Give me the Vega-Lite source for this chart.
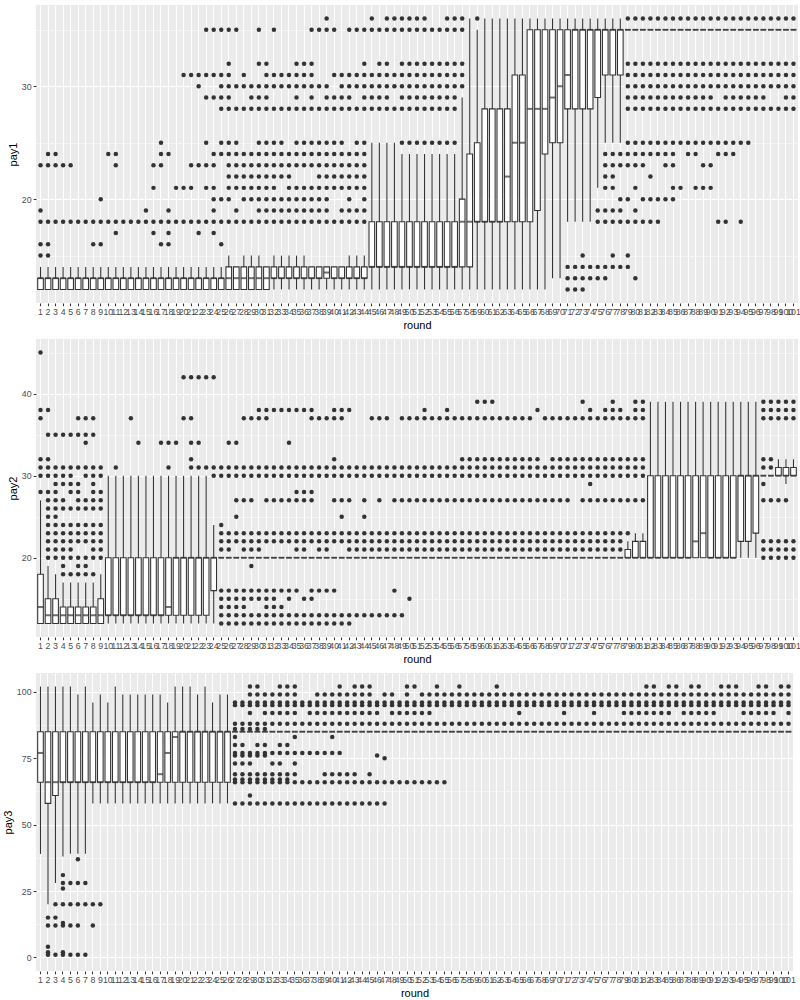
{
"$schema": "https://vega.github.io/schema/vega-lite/v6.json",
"background": "#FFFFFF",
"padding": {"left": 2, "top": 5, "right": 2, "bottom": 2},
"spacing": 8,
"columns": 1,
"align": "none",
"config": {
  "font": "Liberation Sans",
  "view": {"fill": "#EBEBEB", "stroke": null},
  "axis": {"domain": false, "tickColor": "#333333", "tickSize": 2.75, "tickWidth": 1.07, "labelColor": "#4D4D4D", "labelFontSize": 8.8, "labelPadding": 2.2, "titleColor": "#000000", "titleFontSize": 11, "titleFontWeight": "normal", "titlePadding": 2.75, "gridColor": "#FFFFFF", "gridWidth": 1.07}
},
"datasets": {
"b1": [
{"r":1,"lo":12,"q1":12,"md":13,"q3":13,"hi":14},{"r":2,"lo":12,"q1":12,"md":13,"q3":13,"hi":14},{"r":3,"lo":12,"q1":12,"md":13,"q3":13,"hi":14},{"r":4,"lo":12,"q1":12,"md":13,"q3":13,"hi":14},{"r":5,"lo":12,"q1":12,"md":13,"q3":13,"hi":14},
{"r":6,"lo":12,"q1":12,"md":13,"q3":13,"hi":14},{"r":7,"lo":12,"q1":12,"md":13,"q3":13,"hi":14},{"r":8,"lo":12,"q1":12,"md":13,"q3":13,"hi":14},{"r":9,"lo":12,"q1":12,"md":13,"q3":13,"hi":14},{"r":10,"lo":12,"q1":12,"md":13,"q3":13,"hi":14},
{"r":11,"lo":12,"q1":12,"md":13,"q3":13,"hi":14},{"r":12,"lo":12,"q1":12,"md":13,"q3":13,"hi":14},{"r":13,"lo":12,"q1":12,"md":13,"q3":13,"hi":14},{"r":14,"lo":12,"q1":12,"md":13,"q3":13,"hi":14},{"r":15,"lo":12,"q1":12,"md":13,"q3":13,"hi":14},
{"r":16,"lo":12,"q1":12,"md":13,"q3":13,"hi":14},{"r":17,"lo":12,"q1":12,"md":13,"q3":13,"hi":14},{"r":18,"lo":12,"q1":12,"md":13,"q3":13,"hi":14},{"r":19,"lo":12,"q1":12,"md":13,"q3":13,"hi":14},{"r":20,"lo":12,"q1":12,"md":13,"q3":13,"hi":14},
{"r":21,"lo":12,"q1":12,"md":13,"q3":13,"hi":14},{"r":22,"lo":12,"q1":12,"md":13,"q3":13,"hi":14},{"r":23,"lo":12,"q1":12,"md":13,"q3":13,"hi":14},{"r":24,"lo":12,"q1":12,"md":13,"q3":13,"hi":14},{"r":25,"lo":12,"q1":12,"md":13,"q3":13,"hi":14},
{"r":26,"lo":12,"q1":12,"md":13,"q3":14,"hi":15},{"r":27,"lo":12,"q1":12,"md":13,"q3":14,"hi":14},{"r":28,"lo":12,"q1":12,"md":13,"q3":14,"hi":15},{"r":29,"lo":12,"q1":12,"md":13,"q3":14,"hi":15},{"r":30,"lo":12,"q1":12,"md":13,"q3":14,"hi":15},
{"r":31,"lo":12,"q1":12,"md":13,"q3":14,"hi":14},{"r":32,"lo":12,"q1":13,"md":13,"q3":14,"hi":15},{"r":33,"lo":12,"q1":13,"md":13,"q3":14,"hi":15},{"r":34,"lo":12,"q1":13,"md":13,"q3":14,"hi":15},{"r":35,"lo":12,"q1":13,"md":13,"q3":14,"hi":15},
{"r":36,"lo":12,"q1":13,"md":13,"q3":14,"hi":15},{"r":37,"lo":12,"q1":13,"md":13,"q3":14,"hi":14},{"r":38,"lo":12,"q1":13,"md":13,"q3":14,"hi":14},{"r":39,"lo":12,"q1":13,"md":13.5,"q3":14,"hi":14},{"r":40,"lo":12,"q1":13,"md":13,"q3":14,"hi":14},
{"r":41,"lo":12,"q1":13,"md":13,"q3":14,"hi":14},{"r":42,"lo":12,"q1":13,"md":13,"q3":14,"hi":15},{"r":43,"lo":12,"q1":13,"md":13,"q3":14,"hi":15},{"r":44,"lo":12,"q1":13,"md":13,"q3":14,"hi":15},{"r":45,"lo":12,"q1":14,"md":14,"q3":18,"hi":25},
{"r":46,"lo":12,"q1":14,"md":14,"q3":18,"hi":25},{"r":47,"lo":12,"q1":14,"md":14,"q3":18,"hi":25},{"r":48,"lo":12,"q1":14,"md":14,"q3":18,"hi":25},{"r":49,"lo":12,"q1":14,"md":14,"q3":18,"hi":24},{"r":50,"lo":12,"q1":14,"md":14,"q3":18,"hi":24},
{"r":51,"lo":12,"q1":14,"md":14,"q3":18,"hi":24},{"r":52,"lo":12,"q1":14,"md":14,"q3":18,"hi":24},{"r":53,"lo":12,"q1":14,"md":14,"q3":18,"hi":24},{"r":54,"lo":12,"q1":14,"md":14,"q3":18,"hi":24},{"r":55,"lo":12,"q1":14,"md":14,"q3":18,"hi":24},
{"r":56,"lo":12,"q1":14,"md":14,"q3":18,"hi":24},{"r":57,"lo":12,"q1":14,"md":18,"q3":20,"hi":29},{"r":58,"lo":12,"q1":14,"md":18,"q3":24,"hi":36},{"r":59,"lo":12,"q1":18,"md":18,"q3":25,"hi":35},{"r":60,"lo":12,"q1":18,"md":18,"q3":28,"hi":36},
{"r":61,"lo":12,"q1":18,"md":18,"q3":28,"hi":36},{"r":62,"lo":12,"q1":18,"md":18,"q3":28,"hi":36},{"r":63,"lo":12,"q1":18,"md":22,"q3":28,"hi":36},{"r":64,"lo":12,"q1":18,"md":25,"q3":31,"hi":36},{"r":65,"lo":12,"q1":18,"md":25,"q3":31,"hi":36},
{"r":66,"lo":12,"q1":18,"md":28,"q3":35,"hi":36},{"r":67,"lo":12,"q1":19,"md":28,"q3":35,"hi":36},{"r":68,"lo":12,"q1":24,"md":28,"q3":35,"hi":36},{"r":69,"lo":13,"q1":25,"md":29,"q3":35,"hi":36},{"r":70,"lo":13,"q1":25,"md":30,"q3":35,"hi":36},
{"r":71,"lo":18,"q1":28,"md":31,"q3":35,"hi":36},{"r":72,"lo":18,"q1":28,"md":35,"q3":35,"hi":36},{"r":73,"lo":18,"q1":28,"md":35,"q3":35,"hi":36},{"r":74,"lo":18,"q1":28,"md":35,"q3":35,"hi":36},{"r":75,"lo":21,"q1":29,"md":35,"q3":35,"hi":36},
{"r":76,"lo":25,"q1":31,"md":35,"q3":35,"hi":36},{"r":77,"lo":25,"q1":31,"md":35,"q3":35,"hi":36},{"r":78,"lo":25,"q1":31,"md":35,"q3":35,"hi":36},{"r":79,"lo":35,"q1":35,"md":35,"q3":35,"hi":35},{"r":80,"lo":35,"q1":35,"md":35,"q3":35,"hi":35},
{"r":81,"lo":35,"q1":35,"md":35,"q3":35,"hi":35},{"r":82,"lo":35,"q1":35,"md":35,"q3":35,"hi":35},{"r":83,"lo":35,"q1":35,"md":35,"q3":35,"hi":35},{"r":84,"lo":35,"q1":35,"md":35,"q3":35,"hi":35},{"r":85,"lo":35,"q1":35,"md":35,"q3":35,"hi":35},
{"r":86,"lo":35,"q1":35,"md":35,"q3":35,"hi":35},{"r":87,"lo":35,"q1":35,"md":35,"q3":35,"hi":35},{"r":88,"lo":35,"q1":35,"md":35,"q3":35,"hi":35},{"r":89,"lo":35,"q1":35,"md":35,"q3":35,"hi":35},{"r":90,"lo":35,"q1":35,"md":35,"q3":35,"hi":35},
{"r":91,"lo":35,"q1":35,"md":35,"q3":35,"hi":35},{"r":92,"lo":35,"q1":35,"md":35,"q3":35,"hi":35},{"r":93,"lo":35,"q1":35,"md":35,"q3":35,"hi":35},{"r":94,"lo":35,"q1":35,"md":35,"q3":35,"hi":35},{"r":95,"lo":35,"q1":35,"md":35,"q3":35,"hi":35},
{"r":96,"lo":35,"q1":35,"md":35,"q3":35,"hi":35},{"r":97,"lo":35,"q1":35,"md":35,"q3":35,"hi":35},{"r":98,"lo":35,"q1":35,"md":35,"q3":35,"hi":35},{"r":99,"lo":35,"q1":35,"md":35,"q3":35,"hi":35},{"r":100,"lo":35,"q1":35,"md":35,"q3":35,"hi":35},
{"r":101,"lo":35,"q1":35,"md":35,"q3":35,"hi":35}
],
"o1": [
{"v":36,"r":[39,45,47,48,49,50,51,52,55,56,57,59,79,80,81,82,83,84,85,86,87,88,89,90,91,92,93,94,95,96,97,98,99,100,101]},
{"v":35,"r":[23,24,25,26,27,30,32,37,38,39,40,42,43,44,45,46,47,48,49,50,51,52,53,54,55,56,57]},
{"v":32,"r":[26,30,31,35,36,37,44,46,47,49,50,51,52,53,54,55,56,57,79,80,81,82,83,84,85,86,87,88,89,90,91,92,93,94,95,96,97,98,99,100,101]},
{"v":31,"r":[20,21,22,23,24,25,26,28,31,32,33,34,35,36,37,40,41,42,43,44,45,46,47,48,49,50,51,52,53,54,55,56,57,79,80,81,82,83,84,85,86,87,88,89,90,91,92,93,94,95,96,97,98,99,100,101]},
{"v":30,"r":[22,25,26,27,28,29,30,31,32,33,34,35,36,37,38,39,41,42,43,44,45,46,47,48,49,50,51,52,53,54,55,56,57,79,80,81,82,83,84,85,86,87,88,89,90,91,92,93,94,95,96,97,98,99,100,101]},
{"v":29,"r":[23,24,25,26,29,30,31,35,37,39,40,41,42,44,45,46,47,49,50,51,52,53,54,55,56,79,80,81,82,83,84,85,86,87,88,89,90,92,93,94,95,96,97,100,101]},
{"v":28,"r":[25,26,27,28,29,30,31,32,33,34,35,36,37,38,39,40,41,42,43,44,45,46,47,48,49,50,51,52,53,54,55,56,79,80,81,82,83,84,85,86,87,88,89,90,91,92,93,94,95,96,97,98,99,100,101]},
{"v":25,"r":[17,23,25,26,27,30,31,32,33,35,36,37,38,39,40,41,43,44,49,50,51,52,53,54,55,56,79,80,81,82,83,84,85,86,87,88,89,90,91,92,93,94,95]},
{"v":24,"r":[2,3,10,11,17,18,24,25,26,27,28,29,30,31,32,33,34,35,36,37,38,39,40,41,42,43,44,76,77,78,79,80,81,82,83,84,85,87,88,91,92,93]},
{"v":23,"r":[1,2,3,4,5,11,16,17,21,22,23,24,26,27,28,29,30,31,32,33,34,35,36,37,38,39,40,41,42,43,44,76,77,78,79,80,81,84,85,89,90]},
{"v":22,"r":[26,27,28,29,30,31,32,33,34,38,39,40,41,42,43,44,76,77,82]},
{"v":21,"r":[16,19,20,21,23,24,26,27,28,29,30,31,32,34,35,36,37,38,39,40,41,42,43,44,76,77,80,85,86,88,89,90]},
{"v":20,"r":[9,24,25,26,28,29,30,31,32,33,34,35,36,37,38,39,42,44,78,79,81,82,83,84,85]},
{"v":19,"r":[1,15,18,24,27,30,31,32,33,34,35,36,37,38,39,41,42,43,44,75,76,77,78,80]},
{"v":18,"r":[1,2,3,4,5,6,7,8,9,10,11,12,13,14,15,16,17,18,19,20,21,22,23,24,25,26,27,28,29,30,31,32,33,34,35,36,37,38,39,40,41,42,43,44,75,76,77,78,79,80,81,82,83,91,92,94]},
{"v":17,"r":[11,16,18,22,24]},
{"v":16,"r":[1,2,8,9,17,18,25]},
{"v":15,"r":[1,2,73,77,79]},
{"v":14,"r":[71,72,73,74,75,76,77,78,79]},
{"v":13,"r":[71,72,73,74,75,76,80]},
{"v":12,"r":[71,72,73]}
],
"b2": [
{"r":1,"lo":12,"q1":12,"md":14,"q3":18,"hi":27},{"r":2,"lo":12,"q1":12,"md":13,"q3":15,"hi":19},{"r":3,"lo":12,"q1":12,"md":13,"q3":15,"hi":18},{"r":4,"lo":12,"q1":12,"md":13,"q3":14,"hi":17},{"r":5,"lo":12,"q1":12,"md":13,"q3":14,"hi":17},
{"r":6,"lo":12,"q1":12,"md":13,"q3":14,"hi":17},{"r":7,"lo":12,"q1":12,"md":13,"q3":14,"hi":17},{"r":8,"lo":12,"q1":12,"md":13,"q3":14,"hi":17},{"r":9,"lo":12,"q1":12,"md":13,"q3":15,"hi":18},{"r":10,"lo":12,"q1":13,"md":13,"q3":20,"hi":30},
{"r":11,"lo":12,"q1":13,"md":13,"q3":20,"hi":30},{"r":12,"lo":12,"q1":13,"md":13,"q3":20,"hi":30},{"r":13,"lo":12,"q1":13,"md":13,"q3":20,"hi":30},{"r":14,"lo":12,"q1":13,"md":13,"q3":20,"hi":30},{"r":15,"lo":12,"q1":13,"md":13,"q3":20,"hi":30},
{"r":16,"lo":12,"q1":13,"md":13,"q3":20,"hi":30},{"r":17,"lo":12,"q1":13,"md":13,"q3":20,"hi":30},{"r":18,"lo":12,"q1":13,"md":14,"q3":20,"hi":30},{"r":19,"lo":12,"q1":13,"md":20,"q3":20,"hi":30},{"r":20,"lo":12,"q1":13,"md":20,"q3":20,"hi":30},
{"r":21,"lo":12,"q1":13,"md":20,"q3":20,"hi":30},{"r":22,"lo":12,"q1":13,"md":20,"q3":20,"hi":30},{"r":23,"lo":12,"q1":13,"md":20,"q3":20,"hi":30},{"r":24,"lo":12,"q1":16,"md":20,"q3":20,"hi":24},{"r":25,"lo":20,"q1":20,"md":20,"q3":20,"hi":20},
{"r":26,"lo":20,"q1":20,"md":20,"q3":20,"hi":20},{"r":27,"lo":20,"q1":20,"md":20,"q3":20,"hi":20},{"r":28,"lo":20,"q1":20,"md":20,"q3":20,"hi":20},{"r":29,"lo":20,"q1":20,"md":20,"q3":20,"hi":20},{"r":30,"lo":20,"q1":20,"md":20,"q3":20,"hi":20},
{"r":31,"lo":20,"q1":20,"md":20,"q3":20,"hi":20},{"r":32,"lo":20,"q1":20,"md":20,"q3":20,"hi":20},{"r":33,"lo":20,"q1":20,"md":20,"q3":20,"hi":20},{"r":34,"lo":20,"q1":20,"md":20,"q3":20,"hi":20},{"r":35,"lo":20,"q1":20,"md":20,"q3":20,"hi":20},
{"r":36,"lo":20,"q1":20,"md":20,"q3":20,"hi":20},{"r":37,"lo":20,"q1":20,"md":20,"q3":20,"hi":20},{"r":38,"lo":20,"q1":20,"md":20,"q3":20,"hi":20},{"r":39,"lo":20,"q1":20,"md":20,"q3":20,"hi":20},{"r":40,"lo":20,"q1":20,"md":20,"q3":20,"hi":20},
{"r":41,"lo":20,"q1":20,"md":20,"q3":20,"hi":20},{"r":42,"lo":20,"q1":20,"md":20,"q3":20,"hi":20},{"r":43,"lo":20,"q1":20,"md":20,"q3":20,"hi":20},{"r":44,"lo":20,"q1":20,"md":20,"q3":20,"hi":20},{"r":45,"lo":20,"q1":20,"md":20,"q3":20,"hi":20},
{"r":46,"lo":20,"q1":20,"md":20,"q3":20,"hi":20},{"r":47,"lo":20,"q1":20,"md":20,"q3":20,"hi":20},{"r":48,"lo":20,"q1":20,"md":20,"q3":20,"hi":20},{"r":49,"lo":20,"q1":20,"md":20,"q3":20,"hi":20},{"r":50,"lo":20,"q1":20,"md":20,"q3":20,"hi":20},
{"r":51,"lo":20,"q1":20,"md":20,"q3":20,"hi":20},{"r":52,"lo":20,"q1":20,"md":20,"q3":20,"hi":20},{"r":53,"lo":20,"q1":20,"md":20,"q3":20,"hi":20},{"r":54,"lo":20,"q1":20,"md":20,"q3":20,"hi":20},{"r":55,"lo":20,"q1":20,"md":20,"q3":20,"hi":20},
{"r":56,"lo":20,"q1":20,"md":20,"q3":20,"hi":20},{"r":57,"lo":20,"q1":20,"md":20,"q3":20,"hi":20},{"r":58,"lo":20,"q1":20,"md":20,"q3":20,"hi":20},{"r":59,"lo":20,"q1":20,"md":20,"q3":20,"hi":20},{"r":60,"lo":20,"q1":20,"md":20,"q3":20,"hi":20},
{"r":61,"lo":20,"q1":20,"md":20,"q3":20,"hi":20},{"r":62,"lo":20,"q1":20,"md":20,"q3":20,"hi":20},{"r":63,"lo":20,"q1":20,"md":20,"q3":20,"hi":20},{"r":64,"lo":20,"q1":20,"md":20,"q3":20,"hi":20},{"r":65,"lo":20,"q1":20,"md":20,"q3":20,"hi":20},
{"r":66,"lo":20,"q1":20,"md":20,"q3":20,"hi":20},{"r":67,"lo":20,"q1":20,"md":20,"q3":20,"hi":20},{"r":68,"lo":20,"q1":20,"md":20,"q3":20,"hi":20},{"r":69,"lo":20,"q1":20,"md":20,"q3":20,"hi":20},{"r":70,"lo":20,"q1":20,"md":20,"q3":20,"hi":20},
{"r":71,"lo":20,"q1":20,"md":20,"q3":20,"hi":20},{"r":72,"lo":20,"q1":20,"md":20,"q3":20,"hi":20},{"r":73,"lo":20,"q1":20,"md":20,"q3":20,"hi":20},{"r":74,"lo":20,"q1":20,"md":20,"q3":20,"hi":20},{"r":75,"lo":20,"q1":20,"md":20,"q3":20,"hi":20},
{"r":76,"lo":20,"q1":20,"md":20,"q3":20,"hi":20},{"r":77,"lo":20,"q1":20,"md":20,"q3":20,"hi":20},{"r":78,"lo":20,"q1":20,"md":20,"q3":20,"hi":20},{"r":79,"lo":20,"q1":20,"md":20,"q3":21,"hi":22},{"r":80,"lo":20,"q1":20,"md":20,"q3":22,"hi":23},
{"r":81,"lo":20,"q1":20,"md":20,"q3":22,"hi":23},{"r":82,"lo":20,"q1":20,"md":20,"q3":30,"hi":39},{"r":83,"lo":20,"q1":20,"md":20,"q3":30,"hi":39},{"r":84,"lo":20,"q1":20,"md":20,"q3":30,"hi":39},{"r":85,"lo":20,"q1":20,"md":20,"q3":30,"hi":39},
{"r":86,"lo":20,"q1":20,"md":20,"q3":30,"hi":39},{"r":87,"lo":20,"q1":20,"md":20,"q3":30,"hi":39},{"r":88,"lo":20,"q1":20,"md":22,"q3":30,"hi":39},{"r":89,"lo":20,"q1":20,"md":23,"q3":30,"hi":39},{"r":90,"lo":20,"q1":20,"md":20,"q3":30,"hi":39},
{"r":91,"lo":20,"q1":20,"md":20,"q3":30,"hi":39},{"r":92,"lo":20,"q1":20,"md":20,"q3":30,"hi":39},{"r":93,"lo":20,"q1":20,"md":20,"q3":30,"hi":39},{"r":94,"lo":20,"q1":22,"md":30,"q3":30,"hi":39},{"r":95,"lo":20,"q1":22,"md":30,"q3":30,"hi":39},
{"r":96,"lo":20,"q1":23,"md":30,"q3":30,"hi":39},{"r":97,"lo":30,"q1":30,"md":30,"q3":30,"hi":30},{"r":98,"lo":30,"q1":30,"md":30,"q3":30,"hi":30},{"r":99,"lo":30,"q1":30,"md":30,"q3":31,"hi":32},{"r":100,"lo":29,"q1":30,"md":30,"q3":31,"hi":32},
{"r":101,"lo":30,"q1":30,"md":30,"q3":31,"hi":32}
],
"o2": [
{"v":45,"r":[1]},
{"v":42,"r":[20,21,22,23,24]},
{"v":39,"r":[59,60,61,73,77,80,81,97,98,99,100,101]},
{"v":38,"r":[1,2,30,31,32,33,34,35,36,37,40,41,42,52,55,67,74,76,77,78,80,81,97,98,99,100,101]},
{"v":37,"r":[1,6,7,8,13,20,21,28,29,30,31,37,38,39,40,41,45,46,47,49,50,51,52,53,54,55,56,57,58,59,60,61,62,63,64,65,66,68,69,70,71,72,73,74,75,76,77,78,79,80,81,97,98,99,100,101]},
{"v":35,"r":[2,3,4,5,6,7,8]},
{"v":34,"r":[7,14,17,18,19,21,22,26,27,34]},
{"v":32,"r":[1,2,21,40,57,58,59,60,61,62,63,64,65,66,67,69,70,71,72,73,74,75,76,77,78,79,80,81,97,98]},
{"v":31,"r":[1,2,3,4,5,6,7,8,9,11,18,21,22,23,24,25,26,27,28,29,30,31,32,33,34,35,36,37,38,39,40,41,42,43,44,45,46,47,48,49,50,51,52,53,54,55,56,57,58,59,60,61,62,63,64,65,66,67,68,69,70,71,72,73,74,75,76,77,78,79,80,81,97,98]},
{"v":30,"r":[1,2,3,4,5,7,8,9,24,25,26,27,28,29,30,31,32,33,34,35,36,37,38,39,40,41,42,43,44,45,46,47,48,49,50,51,52,53,54,55,56,57,58,59,60,61,62,63,64,65,66,67,68,69,70,71,72,73,74,75,76,77,78,79,80,81]},
{"v":29,"r":[3,4,5,6,8,74,97]},
{"v":28,"r":[1,2,3,5,6,8,9,35,36,37]},
{"v":27,"r":[2,3,4,6,7,8,9,27,28,29,31,32,33,34,35,36,37,40,41,42,44,46,48,49,50,51,52,53,54,55,56,57,58,59,60,61,62,63,64,65,66,67,68,69,70,71,73,74,75,76,77,78,79,80,81,97,98,99,100]},
{"v":26,"r":[2,3,4,5,6,7,8,9]},
{"v":25,"r":[2,3,27,41,44]},
{"v":24,"r":[2,3,4,5,6,7,8,9,25]},
{"v":23,"r":[2,3,4,5,6,7,8,9,25,26,27,28,29,30,31,32,33,34,35,36,37,38,39,40,41,42,43,44,45,46,47,48,49,50,51,52,53,54,55,56,57,58,59,60,61,62,63,64,65,66,67,68,69,70,71,72,73,74,75,76,77,78,79]},
{"v":22,"r":[2,3,4,5,6,7,8,9,25,26,27,28,29,30,31,32,33,34,35,36,37,38,39,40,41,42,43,44,45,46,47,48,49,50,51,52,53,54,55,56,57,58,59,60,61,62,63,64,65,66,67,68,69,70,71,72,73,74,75,76,77,78,97,98,99,100,101]},
{"v":21,"r":[2,3,4,5,8,9,25,26,28,29,30,35,36,38,39,42,43,44,45,46,47,48,49,50,51,52,53,54,55,56,57,58,59,60,61,62,63,64,65,66,67,68,69,70,71,72,73,74,75,76,77,78,97,98,99,100,101]},
{"v":20,"r":[2,3,4,5,6,7,8,9,97,98,99,100,101]},
{"v":19,"r":[4,6,7,29]},
{"v":18,"r":[4,5,6,7,8]},
{"v":16,"r":[25,26,27,28,29,30,31,32,33,34,35,37,38,39,40,48]},
{"v":15,"r":[25,26,27,28,29,30,31,32,34,36,37,50]},
{"v":14,"r":[25,26,27,28,31,32,33]},
{"v":13,"r":[25,26,27,28,29,30,31,32,33,34,35,36,37,38,39,40,41,42,43,44,45,46,47,48,49]},
{"v":12,"r":[25,26,27,28,29,30,31,32,33,34,35,36,37,38,39,40,41,42]}
],
"b3": [
{"r":1,"lo":39,"q1":66,"md":77,"q3":85,"hi":102},{"r":2,"lo":20,"q1":58,"md":66,"q3":85,"hi":102},{"r":3,"lo":28,"q1":61,"md":66,"q3":85,"hi":102},{"r":4,"lo":38,"q1":66,"md":66,"q3":85,"hi":102},{"r":5,"lo":39,"q1":66,"md":66,"q3":85,"hi":102},
{"r":6,"lo":39,"q1":66,"md":66,"q3":85,"hi":99},{"r":7,"lo":39,"q1":66,"md":66,"q3":85,"hi":102},{"r":8,"lo":58,"q1":66,"md":66,"q3":85,"hi":96},{"r":9,"lo":58,"q1":66,"md":66,"q3":85,"hi":99},{"r":10,"lo":58,"q1":66,"md":66,"q3":85,"hi":96},
{"r":11,"lo":58,"q1":66,"md":66,"q3":85,"hi":102},{"r":12,"lo":58,"q1":66,"md":66,"q3":85,"hi":99},{"r":13,"lo":58,"q1":66,"md":66,"q3":85,"hi":99},{"r":14,"lo":58,"q1":66,"md":66,"q3":85,"hi":99},{"r":15,"lo":58,"q1":66,"md":66,"q3":85,"hi":99},
{"r":16,"lo":58,"q1":66,"md":66,"q3":85,"hi":99},{"r":17,"lo":58,"q1":66,"md":69,"q3":85,"hi":99},{"r":18,"lo":58,"q1":66,"md":77,"q3":85,"hi":96},{"r":19,"lo":58,"q1":66,"md":83,"q3":85,"hi":102},{"r":20,"lo":58,"q1":66,"md":85,"q3":85,"hi":102},
{"r":21,"lo":58,"q1":66,"md":85,"q3":85,"hi":102},{"r":22,"lo":58,"q1":66,"md":85,"q3":85,"hi":99},{"r":23,"lo":58,"q1":66,"md":85,"q3":85,"hi":102},{"r":24,"lo":58,"q1":66,"md":85,"q3":85,"hi":96},{"r":25,"lo":58,"q1":66,"md":85,"q3":85,"hi":99},
{"r":26,"lo":58,"q1":66,"md":85,"q3":85,"hi":99},{"r":27,"lo":85,"q1":85,"md":85,"q3":85,"hi":85},{"r":28,"lo":85,"q1":85,"md":85,"q3":85,"hi":85},{"r":29,"lo":85,"q1":85,"md":85,"q3":85,"hi":85},{"r":30,"lo":85,"q1":85,"md":85,"q3":85,"hi":85},
{"r":31,"lo":85,"q1":85,"md":85,"q3":85,"hi":85},{"r":32,"lo":85,"q1":85,"md":85,"q3":85,"hi":85},{"r":33,"lo":85,"q1":85,"md":85,"q3":85,"hi":85},{"r":34,"lo":85,"q1":85,"md":85,"q3":85,"hi":85},{"r":35,"lo":85,"q1":85,"md":85,"q3":85,"hi":85},
{"r":36,"lo":85,"q1":85,"md":85,"q3":85,"hi":85},{"r":37,"lo":85,"q1":85,"md":85,"q3":85,"hi":85},{"r":38,"lo":85,"q1":85,"md":85,"q3":85,"hi":85},{"r":39,"lo":85,"q1":85,"md":85,"q3":85,"hi":85},{"r":40,"lo":85,"q1":85,"md":85,"q3":85,"hi":85},
{"r":41,"lo":85,"q1":85,"md":85,"q3":85,"hi":85},{"r":42,"lo":85,"q1":85,"md":85,"q3":85,"hi":85},{"r":43,"lo":85,"q1":85,"md":85,"q3":85,"hi":85},{"r":44,"lo":85,"q1":85,"md":85,"q3":85,"hi":85},{"r":45,"lo":85,"q1":85,"md":85,"q3":85,"hi":85},
{"r":46,"lo":85,"q1":85,"md":85,"q3":85,"hi":85},{"r":47,"lo":85,"q1":85,"md":85,"q3":85,"hi":85},{"r":48,"lo":85,"q1":85,"md":85,"q3":85,"hi":85},{"r":49,"lo":85,"q1":85,"md":85,"q3":85,"hi":85},{"r":50,"lo":85,"q1":85,"md":85,"q3":85,"hi":85},
{"r":51,"lo":85,"q1":85,"md":85,"q3":85,"hi":85},{"r":52,"lo":85,"q1":85,"md":85,"q3":85,"hi":85},{"r":53,"lo":85,"q1":85,"md":85,"q3":85,"hi":85},{"r":54,"lo":85,"q1":85,"md":85,"q3":85,"hi":85},{"r":55,"lo":85,"q1":85,"md":85,"q3":85,"hi":85},
{"r":56,"lo":85,"q1":85,"md":85,"q3":85,"hi":85},{"r":57,"lo":85,"q1":85,"md":85,"q3":85,"hi":85},{"r":58,"lo":85,"q1":85,"md":85,"q3":85,"hi":85},{"r":59,"lo":85,"q1":85,"md":85,"q3":85,"hi":85},{"r":60,"lo":85,"q1":85,"md":85,"q3":85,"hi":85},
{"r":61,"lo":85,"q1":85,"md":85,"q3":85,"hi":85},{"r":62,"lo":85,"q1":85,"md":85,"q3":85,"hi":85},{"r":63,"lo":85,"q1":85,"md":85,"q3":85,"hi":85},{"r":64,"lo":85,"q1":85,"md":85,"q3":85,"hi":85},{"r":65,"lo":85,"q1":85,"md":85,"q3":85,"hi":85},
{"r":66,"lo":85,"q1":85,"md":85,"q3":85,"hi":85},{"r":67,"lo":85,"q1":85,"md":85,"q3":85,"hi":85},{"r":68,"lo":85,"q1":85,"md":85,"q3":85,"hi":85},{"r":69,"lo":85,"q1":85,"md":85,"q3":85,"hi":85},{"r":70,"lo":85,"q1":85,"md":85,"q3":85,"hi":85},
{"r":71,"lo":85,"q1":85,"md":85,"q3":85,"hi":85},{"r":72,"lo":85,"q1":85,"md":85,"q3":85,"hi":85},{"r":73,"lo":85,"q1":85,"md":85,"q3":85,"hi":85},{"r":74,"lo":85,"q1":85,"md":85,"q3":85,"hi":85},{"r":75,"lo":85,"q1":85,"md":85,"q3":85,"hi":85},
{"r":76,"lo":85,"q1":85,"md":85,"q3":85,"hi":85},{"r":77,"lo":85,"q1":85,"md":85,"q3":85,"hi":85},{"r":78,"lo":85,"q1":85,"md":85,"q3":85,"hi":85},{"r":79,"lo":85,"q1":85,"md":85,"q3":85,"hi":85},{"r":80,"lo":85,"q1":85,"md":85,"q3":85,"hi":85},
{"r":81,"lo":85,"q1":85,"md":85,"q3":85,"hi":85},{"r":82,"lo":85,"q1":85,"md":85,"q3":85,"hi":85},{"r":83,"lo":85,"q1":85,"md":85,"q3":85,"hi":85},{"r":84,"lo":85,"q1":85,"md":85,"q3":85,"hi":85},{"r":85,"lo":85,"q1":85,"md":85,"q3":85,"hi":85},
{"r":86,"lo":85,"q1":85,"md":85,"q3":85,"hi":85},{"r":87,"lo":85,"q1":85,"md":85,"q3":85,"hi":85},{"r":88,"lo":85,"q1":85,"md":85,"q3":85,"hi":85},{"r":89,"lo":85,"q1":85,"md":85,"q3":85,"hi":85},{"r":90,"lo":85,"q1":85,"md":85,"q3":85,"hi":85},
{"r":91,"lo":85,"q1":85,"md":85,"q3":85,"hi":85},{"r":92,"lo":85,"q1":85,"md":85,"q3":85,"hi":85},{"r":93,"lo":85,"q1":85,"md":85,"q3":85,"hi":85},{"r":94,"lo":85,"q1":85,"md":85,"q3":85,"hi":85},{"r":95,"lo":85,"q1":85,"md":85,"q3":85,"hi":85},
{"r":96,"lo":85,"q1":85,"md":85,"q3":85,"hi":85},{"r":97,"lo":85,"q1":85,"md":85,"q3":85,"hi":85},{"r":98,"lo":85,"q1":85,"md":85,"q3":85,"hi":85},{"r":99,"lo":85,"q1":85,"md":85,"q3":85,"hi":85},{"r":100,"lo":85,"q1":85,"md":85,"q3":85,"hi":85},
{"r":101,"lo":85,"q1":85,"md":85,"q3":85,"hi":85}
],
"o3": [
{"v":102,"r":[29,30,33,34,35,41,43,44,45,50,51,54,57,62,82,83,85,86,88,89,92,93,94,97,98,100,101]},
{"v":99,"r":[29,30,31,32,33,34,35,38,39,40,41,42,43,44,45,47,48,50,52,53,54,55,56,57,58,59,60,61,62,63,64,65,66,67,68,69,70,71,72,73,74,75,76,77,78,79,80,81,82,83,84,85,86,87,88,89,90,91,92,93,94,95,96,97,98,99,100,101]},
{"v":96,"r":[27,28,29,30,31,32,33,34,35,36,37,38,39,40,41,42,43,44,45,46,47,48,49,50,51,52,53,54,55,56,57,58,59,60,61,62,63,64,65,66,67,68,69,70,71,72,73,74,75,76,77,78,79,80,81,82,83,84,85,86,87,88,89,90,91,92,93,94,95,96,97,98,99,100,101]},
{"v":95,"r":[27,28,29,30,31,32,33,34,35,36,37,38,39,40,41,42,43,44,45,46,47,48,49,50,51,52,53,54,55,56,57,58,59,60,61,62,63,64,65,66,67,68,69,70,71,72,73,74,75,76,77,78,79,80,81,82,83,84,85,86,87,88,89,90,91,92,93,94,95,96,97,98,99,100,101]},
{"v":92,"r":[29,31,32,33,34,35,37,38,39,40,41,42,43,44,45,46,48,49,50,51,52,53,65,71,75,79,80,81,82,83,84,85,87,88,89,90,91,95,96,97,98,99,101]},
{"v":88,"r":[27,28,29,30,31,32,33,34,35,36,37,38,39,40,41,42,43,44,45,46,47,48,49,50,51,52,53,54,55,56,57,58,59,60,61,62,63,64,65,66,67,68,69,70,71,72,73,74,75,76,77,78,79,80,81,82,83,84,85,86,87,88,89,90,91,92,93,94,95,96,97,98,99,100,101]},
{"v":86,"r":[27,28,29,30,31]},
{"v":83,"r":[27,35,40]},
{"v":80,"r":[27,28,30,31,33,34]},
{"v":77,"r":[27,28,29,30,31,32,33,34,35,36,37,38,39,40,41]},
{"v":76,"r":[27,28,29,30,31,46]},
{"v":75,"r":[47]},
{"v":73,"r":[27,28,29,32,33,35]},
{"v":69,"r":[27,28,29,30,31,32,33,34,35,39,40,41,42,43,45]},
{"v":67,"r":[27,28,29,30,31,32,33,34]},
{"v":66,"r":[27,28,29,30,31,32,33,34,35,36,37,38,39,40,41,42,43,44,45,46,47,48,49,50,51,52,53,54,55]},
{"v":61,"r":[29]},
{"v":58,"r":[27,28,29,30,31,32,33,34,35,36,37,38,39,40,41,42,43,44,45,46,47]},
{"v":37,"r":[6]},
{"v":31,"r":[4]},
{"v":28,"r":[4,5,6,7]},
{"v":26,"r":[4]},
{"v":20,"r":[3,4,5,6,7,8,9]},
{"v":15,"r":[2,3]},
{"v":13,"r":[4]},
{"v":12,"r":[2,3,4,5,6,8]},
{"v":4,"r":[2]},
{"v":2,"r":[2,4]},
{"v":1,"r":[2,3,4,5,6,7]}
]
},
"concat": [
{
 "width": 762, "height": 298,
 "resolve": {"axis": {"y": "independent"}},
 "layer": [
  {"data": {"name": "b1"}, "mark": {"type": "rule", "color": "#333333", "strokeWidth": 1.07},
   "encoding": {
    "x": {"field": "r", "type": "ordinal", "scale": {"type": "band", "paddingInner": 0, "paddingOuter": 0.1}, "axis": {"title": "round", "labelAngle": 0, "labelOverlap": false, "grid": true, "bandPosition": 0.5}},
    "y": {"field": "lo", "type": "quantitative", "scale": {"domain": [10.8, 37.2], "nice": false, "zero": false}, "axis": {"values": [20, 30], "title": "pay1", "grid": true}},
    "y2": {"field": "hi"}}},
  {"data": {"name": "b1"}, "mark": {"type": "bar", "fill": "#FFFFFF", "stroke": "#333333", "strokeWidth": 1.07, "width": {"band": 0.75}},
   "encoding": {
    "x": {"field": "r", "type": "ordinal", "scale": {"type": "band", "paddingInner": 0, "paddingOuter": 0.1}},
    "y": {"field": "q1", "type": "quantitative", "scale": {"domain": [10.8, 37.2], "nice": false, "zero": false}, "axis": null},
    "y2": {"field": "q3"}}},
  {"data": {"name": "b1"}, "mark": {"type": "tick", "color": "#333333", "thickness": 2, "size": 5.7},
   "encoding": {
    "x": {"field": "r", "type": "ordinal", "scale": {"type": "band", "paddingInner": 0, "paddingOuter": 0.1}},
    "y": {"field": "md", "type": "quantitative", "scale": {"domain": [10.8, 37.2], "nice": false, "zero": false}, "axis": null}}},
  {"data": {"name": "o1"}, "transform": [{"flatten": ["r"]}], "mark": {"type": "circle", "color": "#333333", "size": 20, "opacity": 1},
   "encoding": {
    "x": {"field": "r", "type": "ordinal", "scale": {"type": "band", "paddingInner": 0, "paddingOuter": 0.1}},
    "y": {"field": "v", "type": "quantitative", "scale": {"domain": [10.8, 37.2], "nice": false, "zero": false}, "axis": {"values": [15, 25, 35], "orient": "right", "grid": true, "gridWidth": 0.53, "labels": false, "ticks": false, "domain": false, "title": null}}}}
 ]
},
{
 "width": 762, "height": 298,
 "resolve": {"axis": {"y": "independent"}},
 "layer": [
  {"data": {"name": "b2"}, "mark": {"type": "rule", "color": "#333333", "strokeWidth": 1.07},
   "encoding": {
    "x": {"field": "r", "type": "ordinal", "scale": {"type": "band", "paddingInner": 0, "paddingOuter": 0.1}, "axis": {"title": "round", "labelAngle": 0, "labelOverlap": false, "grid": true, "bandPosition": 0.5}},
    "y": {"field": "lo", "type": "quantitative", "scale": {"domain": [10.35, 46.65], "nice": false, "zero": false}, "axis": {"values": [20, 30, 40], "title": "pay2", "grid": true}},
    "y2": {"field": "hi"}}},
  {"data": {"name": "b2"}, "mark": {"type": "bar", "fill": "#FFFFFF", "stroke": "#333333", "strokeWidth": 1.07, "width": {"band": 0.75}},
   "encoding": {
    "x": {"field": "r", "type": "ordinal", "scale": {"type": "band", "paddingInner": 0, "paddingOuter": 0.1}},
    "y": {"field": "q1", "type": "quantitative", "scale": {"domain": [10.35, 46.65], "nice": false, "zero": false}, "axis": null},
    "y2": {"field": "q3"}}},
  {"data": {"name": "b2"}, "mark": {"type": "tick", "color": "#333333", "thickness": 2, "size": 5.7},
   "encoding": {
    "x": {"field": "r", "type": "ordinal", "scale": {"type": "band", "paddingInner": 0, "paddingOuter": 0.1}},
    "y": {"field": "md", "type": "quantitative", "scale": {"domain": [10.35, 46.65], "nice": false, "zero": false}, "axis": null}}},
  {"data": {"name": "o2"}, "transform": [{"flatten": ["r"]}], "mark": {"type": "circle", "color": "#333333", "size": 20, "opacity": 1},
   "encoding": {
    "x": {"field": "r", "type": "ordinal", "scale": {"type": "band", "paddingInner": 0, "paddingOuter": 0.1}},
    "y": {"field": "v", "type": "quantitative", "scale": {"domain": [10.35, 46.65], "nice": false, "zero": false}, "axis": {"values": [15, 25, 35, 45], "orient": "right", "grid": true, "gridWidth": 0.53, "labels": false, "ticks": false, "domain": false, "title": null}}}}
 ]
},
{
 "width": 757, "height": 298,
 "resolve": {"axis": {"y": "independent"}},
 "layer": [
  {"data": {"name": "b3"}, "mark": {"type": "rule", "color": "#333333", "strokeWidth": 1.07},
   "encoding": {
    "x": {"field": "r", "type": "ordinal", "scale": {"type": "band", "paddingInner": 0, "paddingOuter": 0.1}, "axis": {"title": "round", "labelAngle": 0, "labelOverlap": false, "grid": true, "bandPosition": 0.5}},
    "y": {"field": "lo", "type": "quantitative", "scale": {"domain": [-5.1, 107.1], "nice": false, "zero": false}, "axis": {"values": [0, 25, 50, 75, 100], "title": "pay3", "grid": true}},
    "y2": {"field": "hi"}}},
  {"data": {"name": "b3"}, "mark": {"type": "bar", "fill": "#FFFFFF", "stroke": "#333333", "strokeWidth": 1.07, "width": {"band": 0.75}},
   "encoding": {
    "x": {"field": "r", "type": "ordinal", "scale": {"type": "band", "paddingInner": 0, "paddingOuter": 0.1}},
    "y": {"field": "q1", "type": "quantitative", "scale": {"domain": [-5.1, 107.1], "nice": false, "zero": false}, "axis": null},
    "y2": {"field": "q3"}}},
  {"data": {"name": "b3"}, "mark": {"type": "tick", "color": "#333333", "thickness": 2, "size": 5.7},
   "encoding": {
    "x": {"field": "r", "type": "ordinal", "scale": {"type": "band", "paddingInner": 0, "paddingOuter": 0.1}},
    "y": {"field": "md", "type": "quantitative", "scale": {"domain": [-5.1, 107.1], "nice": false, "zero": false}, "axis": null}}},
  {"data": {"name": "o3"}, "transform": [{"flatten": ["r"]}], "mark": {"type": "circle", "color": "#333333", "size": 20, "opacity": 1},
   "encoding": {
    "x": {"field": "r", "type": "ordinal", "scale": {"type": "band", "paddingInner": 0, "paddingOuter": 0.1}},
    "y": {"field": "v", "type": "quantitative", "scale": {"domain": [-5.1, 107.1], "nice": false, "zero": false}, "axis": {"values": [12.5, 37.5, 62.5, 87.5], "orient": "right", "grid": true, "gridWidth": 0.53, "labels": false, "ticks": false, "domain": false, "title": null}}}}
 ]
}
]
}
